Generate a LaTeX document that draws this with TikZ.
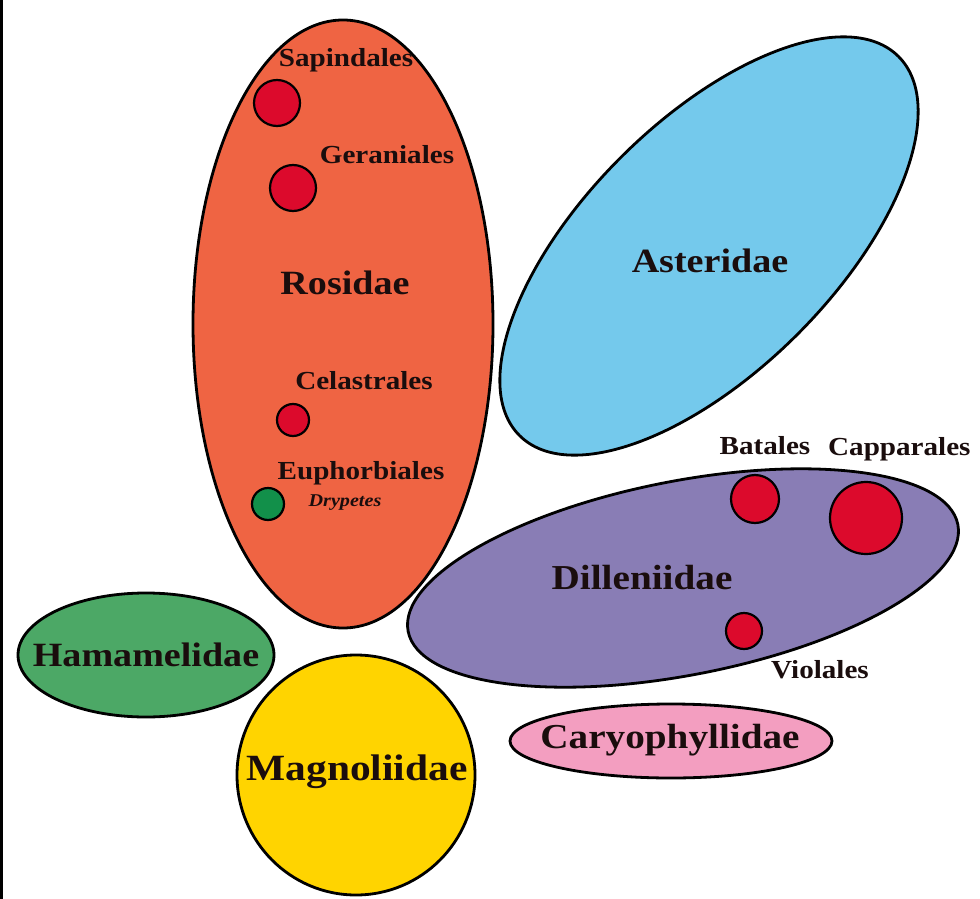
\documentclass[tikz,border=0pt]{standalone}
\usepackage{fontspec}
\setmainfont{Liberation Serif}[FakeStretch=1.12]
\definecolor{rosc}{HTML}{EF6443}
\definecolor{astc}{HTML}{74C9EC}
\definecolor{dilc}{HTML}{897DB5}
\definecolor{hamc}{HTML}{4CA866}
\definecolor{magc}{HTML}{FFD400}
\definecolor{caryc}{HTML}{F39EC0}
\definecolor{dotred}{HTML}{DC0A2C}
\definecolor{dotgreen}{HTML}{12904A}
\definecolor{txt}{HTML}{1A0D0D}
\tikzset{
  group/.style={draw=black,line width=2.8pt},
  dot/.style={draw=black,line width=2.2pt,fill=dotred},
  big/.style={text=txt,font=\bfseries\fontsize{#1}{#1}\selectfont,inner sep=0pt},
  big/.default=34,
  small/.style={text=txt,font=\bfseries\fontsize{26}{26}\selectfont,inner sep=0pt},
}
\begin{document}
\begin{tikzpicture}[x=1pt,y=-1pt]
\useasboundingbox (0,0) rectangle (980,899);
\fill[white] (0,0) rectangle (980,899);
\fill[black] (0,0) rectangle (3,899);
% groups
\draw[group,fill=rosc] (343,324) ellipse [x radius=150,y radius=304];
\draw[group,fill=astc,rotate around={45:(709,246)}] (709,246) ellipse [x radius=268,y radius=125];
\draw[group,fill=dilc,rotate around={11:(683,578)}] (683,578) ellipse [x radius=280,y radius=97];
\draw[group,fill=hamc] (146,655) ellipse [x radius=128,y radius=62];
\draw[group,fill=magc] (356,775) ellipse [x radius=119,y radius=120];
\draw[group,fill=caryc] (671,741) ellipse [x radius=161,y radius=37];
% dots
\draw[dot] (277,103) circle (23);
\draw[dot] (293,188) circle (23);
\draw[dot] (293,420) circle (16);
\draw[dot,fill=dotgreen] (268,504) circle (16);
\draw[dot] (755,499) circle (24);
\draw[dot] (866,518) circle (36);
\draw[dot] (744,631) circle (18);
% labels
\node[big] (ros) at (345,283) {Rosidae};
\node[big] (ast) at (710,261) {Asteridae};
\node[big=35] (dil) at (642,578) {Dilleniidae};
\node[big] (ham) at (146,655) {Hamamelidae};
\node[big=37] (mag) at (357,772) {Magnoliidae};
\node[big=35] (car) at (670,740) {Caryophyllidae};
\node[small] (sap) at (346,60) {Sapindales};
\node[small] (ger) at (387,155) {Geraniales};
\node[small] (cel) at (364,381) {Celastrales};
\node[small] (eup) at (361,473) {Euphorbiales};
\node[text=txt,font=\bfseries\itshape\fontsize{18}{18}\selectfont,inner sep=0pt] (dry) at (345,503) {Drypetes};
\node[small] (bat) at (765,446) {Batales};
\node[small,anchor=west] (cap) at (828,449) {Capparales};
\node[small] (vio) at (820,670) {Violales};
\end{tikzpicture}
\end{document}
